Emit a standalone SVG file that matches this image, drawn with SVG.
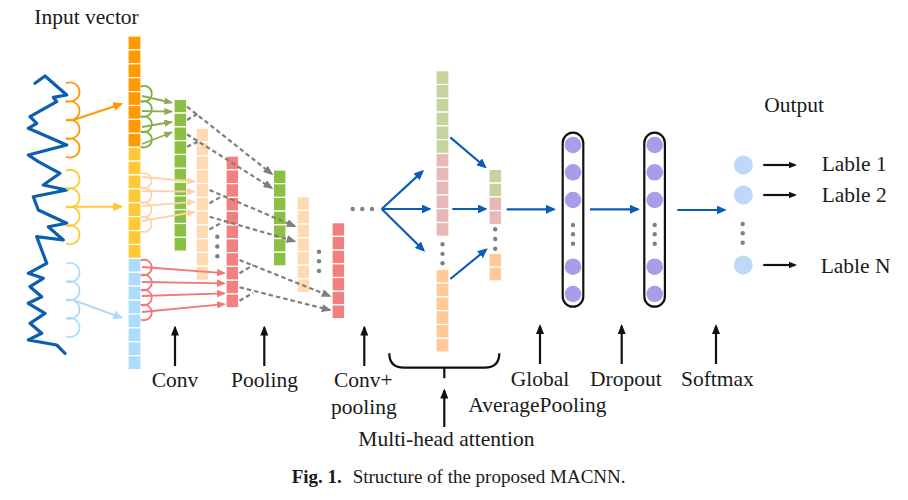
<svg xmlns="http://www.w3.org/2000/svg" width="908" height="500" viewBox="0 0 908 500">
<style>
.t{font-family:"Liberation Serif","Times New Roman",serif;font-size:21.5px;fill:#1a1a1a}
.cap{font-family:"Liberation Serif","Times New Roman",serif;font-size:19px;fill:#1a1a1a}
.c rect{stroke:#fff;stroke-width:1.2}
.or{fill:#FF9A00}.ye{fill:#FFC935}.lb{fill:#ADDBFB}
.gr{fill:#8CC043}.pe{fill:#FFDAB3}.rd{fill:#F28080}
.ag{fill:#C6D39F}.ap{fill:#E8B8B7}.ao{fill:#FFC999}
.dot{fill:#808080}
.pu{fill:#A99CE8}
.arc{fill:none;stroke-width:1.8}
.dash{fill:none;stroke:#7F7F7F;stroke-width:2.2;stroke-dasharray:4.5 3}
.bl{fill:none;stroke:#0B5CB8;stroke-width:2.2}
.bk{fill:none;stroke:#111;stroke-width:2.2}
</style>
<defs>
<marker id="mOr" markerUnits="userSpaceOnUse" viewBox="0 0 10 9" refX="8" refY="4.5" markerWidth="10" markerHeight="9" orient="auto"><path d="M0,0L10,4.5L0,9z" fill="#FF9A00"/></marker>
<marker id="mYe" markerUnits="userSpaceOnUse" viewBox="0 0 10 9" refX="8" refY="4.5" markerWidth="10" markerHeight="9" orient="auto"><path d="M0,0L10,4.5L0,9z" fill="#FFC935"/></marker>
<marker id="mLb" markerUnits="userSpaceOnUse" viewBox="0 0 10 9" refX="8" refY="4.5" markerWidth="10" markerHeight="9" orient="auto"><path d="M0,0L10,4.5L0,9z" fill="#ADDBFB"/></marker>
<marker id="mGr" markerUnits="userSpaceOnUse" viewBox="0 0 9 7" refX="7" refY="3.5" markerWidth="9" markerHeight="7" orient="auto"><path d="M0,0L9,3.5L0,7z" fill="#8FAA55"/></marker>
<marker id="mPe" markerUnits="userSpaceOnUse" viewBox="0 0 9 7.5" refX="7" refY="3.75" markerWidth="9" markerHeight="7.5" orient="auto"><path d="M0,0L9,3.75L0,7.5z" fill="#FDD3AA"/></marker>
<marker id="mRd" markerUnits="userSpaceOnUse" viewBox="0 0 9 7.5" refX="7" refY="3.75" markerWidth="9" markerHeight="7.5" orient="auto"><path d="M0,0L9,3.75L0,7.5z" fill="#F07878"/></marker>
<marker id="mGy" markerUnits="userSpaceOnUse" viewBox="0 0 10 8" refX="8" refY="4" markerWidth="10" markerHeight="8" orient="auto"><path d="M0,0L10,4L0,8z" fill="#7F7F7F"/></marker>
<marker id="mBl" markerUnits="userSpaceOnUse" viewBox="0 0 10 9" refX="8" refY="4.5" markerWidth="10" markerHeight="9" orient="auto"><path d="M0,0L10,4.5L0,9z" fill="#0B5CB8"/></marker>
<marker id="mBk" markerUnits="userSpaceOnUse" viewBox="0 0 10 8" refX="8" refY="4" markerWidth="10" markerHeight="8" orient="auto"><path d="M0,0L10,4L0,8z" fill="#111"/></marker>
<marker id="mBs" markerUnits="userSpaceOnUse" viewBox="0 0 8 6.5" refX="6" refY="3.25" markerWidth="8" markerHeight="6.5" orient="auto"><path d="M0,0L8,3.25L0,6.5z" fill="#111"/></marker>
</defs>
<rect width="908" height="500" fill="#fff"/>

<g id="waveform">
<polyline fill="none" stroke="#0D5EAF" stroke-width="3.2" stroke-linejoin="round" stroke-linecap="round" points="35,83.3 45,76 66.7,95 53.3,97.3 56.7,101.7 30,116.7 36.7,123.3 28.3,128.3 66.7,145 28.3,155 38.3,161.7 60,173.3 43.3,185 66.7,190 33.3,196.7 38.3,210 66.7,223.3 48.3,226.7 63.3,240 36.7,236.7 46.7,263.3 28.3,273.3 43.3,278.3 30,286.7 41.7,296.7 28.3,303.3 45,313.3 30,323.3 41.7,333.3 28.3,340 56.7,345 65,353.3"/>
<path class="arc" stroke="#FF9A00" d="M66,83.39A9.5,9.5 0 1 1 66,100.61M66,102.09A9.5,9.5 0 1 1 66,119.31M66,120.69A9.5,9.5 0 1 1 66,137.91M66,139.39A9.5,9.5 0 1 1 66,156.61"/>
<path class="arc" stroke="#FFC935" d="M66,170.69A9.5,9.5 0 1 1 66,187.91M66,189.19A9.5,9.5 0 1 1 66,206.41M66,207.69A9.5,9.5 0 1 1 66,224.91M66,226.19A9.5,9.5 0 1 1 66,243.41"/>
<path class="arc" stroke="#ADDBFB" d="M66,263.89A9.5,9.5 0 1 1 66,281.11M66,282.19A9.5,9.5 0 1 1 66,299.41M66,300.59A9.5,9.5 0 1 1 66,317.81M66,318.89A9.5,9.5 0 1 1 66,336.11"/>
</g>

<g id="input-vector" class="c">
<rect class="or" x="128" y="36" width="13" height="13.9"/><rect class="or" x="128" y="49.9" width="13" height="13.9"/><rect class="or" x="128" y="63.8" width="13" height="13.9"/><rect class="or" x="128" y="77.7" width="13" height="13.9"/><rect class="or" x="128" y="91.6" width="13" height="13.9"/><rect class="or" x="128" y="105.5" width="13" height="13.9"/><rect class="or" x="128" y="119.4" width="13" height="13.9"/><rect class="or" x="128" y="133.3" width="13" height="13.9"/>
<rect class="ye" x="128" y="147.2" width="13" height="13.9"/><rect class="ye" x="128" y="161.1" width="13" height="13.9"/><rect class="ye" x="128" y="175" width="13" height="13.9"/><rect class="ye" x="128" y="188.9" width="13" height="13.9"/><rect class="ye" x="128" y="202.8" width="13" height="13.9"/><rect class="ye" x="128" y="216.7" width="13" height="13.9"/><rect class="ye" x="128" y="230.6" width="13" height="13.9"/><rect class="ye" x="128" y="244.5" width="13" height="13.9"/>
<rect class="lb" x="128" y="258.4" width="13" height="13.9"/><rect class="lb" x="128" y="272.3" width="13" height="13.9"/><rect class="lb" x="128" y="286.2" width="13" height="13.9"/><rect class="lb" x="128" y="300.1" width="13" height="13.9"/><rect class="lb" x="128" y="314" width="13" height="13.9"/><rect class="lb" x="128" y="327.9" width="13" height="13.9"/><rect class="lb" x="128" y="341.8" width="13" height="13.9"/><rect class="lb" x="128" y="355.7" width="13" height="13.9"/>
</g>

<g id="conv-arcs">
<path class="arc" stroke="#77B33C" d="M140.7,86.63A7.8,7.8 0 1 1 140.7,100.77M140.7,101.93A7.8,7.8 0 1 1 140.7,116.07M140.7,117.23A7.8,7.8 0 1 1 140.7,131.37M140.7,132.53A7.8,7.8 0 1 1 140.7,146.67"/>
<path class="arc" stroke="#FDD3AA" d="M140.8,173.8A7.5,7.5 0 1 1 140.8,187.4M140.8,188.4A7.5,7.5 0 1 1 140.8,202M140.8,203A7.5,7.5 0 1 1 140.8,216.6M140.8,217.6A7.5,7.5 0 1 1 140.8,231.2"/>
<path class="arc" stroke="#F07878" d="M140.75,260.52A7.7,7.7 0 1 1 140.75,274.48M140.75,275.52A7.7,7.7 0 1 1 140.75,289.48M140.75,290.52A7.7,7.7 0 1 1 140.75,304.48M140.75,305.52A7.7,7.7 0 1 1 140.75,319.48"/>
</g>

<g id="conv-green" class="c">
<rect class="gr" x="174" y="99.3" width="12.7" height="13.8"/><rect class="gr" x="174" y="113.1" width="12.7" height="13.8"/><rect class="gr" x="174" y="126.9" width="12.7" height="13.8"/><rect class="gr" x="174" y="140.7" width="12.7" height="13.8"/><rect class="gr" x="174" y="154.5" width="12.7" height="13.8"/><rect class="gr" x="174" y="168.3" width="12.7" height="13.8"/><rect class="gr" x="174" y="182.1" width="12.7" height="13.8"/><rect class="gr" x="174" y="195.9" width="12.7" height="13.8"/><rect class="gr" x="174" y="209.7" width="12.7" height="13.8"/><rect class="gr" x="174" y="223.5" width="12.7" height="13.8"/><rect class="gr" x="174" y="237.3" width="12.7" height="13.8"/>
</g>
<g id="conv-peach" class="c">
<rect class="pe" x="196" y="128.3" width="12.7" height="13.8"/><rect class="pe" x="196" y="142.1" width="12.7" height="13.8"/><rect class="pe" x="196" y="155.9" width="12.7" height="13.8"/><rect class="pe" x="196" y="169.7" width="12.7" height="13.8"/><rect class="pe" x="196" y="183.5" width="12.7" height="13.8"/><rect class="pe" x="196" y="197.3" width="12.7" height="13.8"/><rect class="pe" x="196" y="211.1" width="12.7" height="13.8"/><rect class="pe" x="196" y="224.9" width="12.7" height="13.8"/><rect class="pe" x="196" y="238.7" width="12.7" height="13.8"/><rect class="pe" x="196" y="252.5" width="12.7" height="13.8"/><rect class="pe" x="196" y="266.3" width="12.7" height="13.8"/>
</g>
<g id="conv-red" class="c">
<rect class="rd" x="226" y="156" width="12.7" height="13.8"/><rect class="rd" x="226" y="169.8" width="12.7" height="13.8"/><rect class="rd" x="226" y="183.6" width="12.7" height="13.8"/><rect class="rd" x="226" y="197.4" width="12.7" height="13.8"/><rect class="rd" x="226" y="211.2" width="12.7" height="13.8"/><rect class="rd" x="226" y="225" width="12.7" height="13.8"/><rect class="rd" x="226" y="238.8" width="12.7" height="13.8"/><rect class="rd" x="226" y="252.6" width="12.7" height="13.8"/><rect class="rd" x="226" y="266.4" width="12.7" height="13.8"/><rect class="rd" x="226" y="280.2" width="12.7" height="13.8"/><rect class="rd" x="226" y="294" width="12.7" height="13.8"/>
</g>
<g id="conv-dots">
<circle class="dot" cx="217.3" cy="236.7" r="2.2"/><circle class="dot" cx="217.3" cy="246.5" r="2.2"/><circle class="dot" cx="217.3" cy="256.3" r="2.2"/>
</g>

<g id="pool-green" class="c">
<rect class="gr" x="273.3" y="170" width="12.7" height="13.7"/><rect class="gr" x="273.3" y="183.7" width="12.7" height="13.7"/><rect class="gr" x="273.3" y="197.4" width="12.7" height="13.7"/><rect class="gr" x="273.3" y="211.1" width="12.7" height="13.7"/><rect class="gr" x="273.3" y="224.8" width="12.7" height="13.7"/><rect class="gr" x="273.3" y="238.5" width="12.7" height="13.7"/><rect class="gr" x="273.3" y="252.2" width="12.7" height="13.7"/>
</g>
<g id="pool-peach" class="c">
<rect class="pe" x="297" y="196.7" width="12.7" height="13.7"/><rect class="pe" x="297" y="210.4" width="12.7" height="13.7"/><rect class="pe" x="297" y="224.1" width="12.7" height="13.7"/><rect class="pe" x="297" y="237.8" width="12.7" height="13.7"/><rect class="pe" x="297" y="251.5" width="12.7" height="13.7"/><rect class="pe" x="297" y="265.2" width="12.7" height="13.7"/><rect class="pe" x="297" y="278.9" width="12.7" height="13.7"/>
</g>
<g id="pool-red" class="c">
<rect class="rd" x="332" y="222.7" width="12.7" height="13.7"/><rect class="rd" x="332" y="236.4" width="12.7" height="13.7"/><rect class="rd" x="332" y="250.1" width="12.7" height="13.7"/><rect class="rd" x="332" y="263.8" width="12.7" height="13.7"/><rect class="rd" x="332" y="277.5" width="12.7" height="13.7"/><rect class="rd" x="332" y="291.2" width="12.7" height="13.7"/><rect class="rd" x="332" y="304.9" width="12.7" height="13.7"/>
</g>
<g id="pool-dots">
<circle class="dot" cx="319" cy="251.7" r="2.2"/><circle class="dot" cx="319" cy="261.3" r="2.2"/><circle class="dot" cx="319" cy="270.9" r="2.2"/>
</g>
<g id="ellipsis">
<circle class="dot" cx="352.7" cy="209" r="2.2"/><circle class="dot" cx="362.3" cy="209" r="2.2"/><circle class="dot" cx="372" cy="209" r="2.2"/>
</g>

<g id="attention-heads" class="c">
<rect class="ag" x="436" y="70.7" width="13" height="13.8"/><rect class="ag" x="436" y="84.5" width="13" height="13.8"/><rect class="ag" x="436" y="98.3" width="13" height="13.8"/><rect class="ag" x="436" y="112.1" width="13" height="13.8"/><rect class="ag" x="436" y="125.9" width="13" height="13.8"/><rect class="ag" x="436" y="139.7" width="13" height="13.8"/>
<rect class="ap" x="436" y="153.5" width="13" height="13.8"/><rect class="ap" x="436" y="167.3" width="13" height="13.8"/><rect class="ap" x="436" y="181.1" width="13" height="13.8"/><rect class="ap" x="436" y="194.9" width="13" height="13.8"/><rect class="ap" x="436" y="208.7" width="13" height="13.8"/><rect class="ap" x="436" y="222.5" width="13" height="13.8"/>
<rect class="ao" x="436" y="269.3" width="13" height="13.8"/><rect class="ao" x="436" y="283.1" width="13" height="13.8"/><rect class="ao" x="436" y="296.9" width="13" height="13.8"/><rect class="ao" x="436" y="310.7" width="13" height="13.8"/><rect class="ao" x="436" y="324.5" width="13" height="13.8"/><rect class="ao" x="436" y="338.3" width="13" height="13.8"/>
<circle class="dot" cx="442.5" cy="244.3" r="2.2"/><circle class="dot" cx="442.5" cy="253.9" r="2.2"/><circle class="dot" cx="442.5" cy="263.3" r="2.2"/>
</g>
<g id="attention-output" class="c">
<rect class="ag" x="489" y="169.3" width="12.7" height="13.8"/><rect class="ag" x="489" y="183.1" width="12.7" height="13.8"/>
<rect class="ap" x="489" y="196.9" width="12.7" height="13.8"/><rect class="ap" x="489" y="210.7" width="12.7" height="13.8"/>
<rect class="ao" x="489" y="253.3" width="12.7" height="13.8"/><rect class="ao" x="489" y="267.1" width="12.7" height="13.8"/>
<circle class="dot" cx="495.2" cy="229.3" r="2.2"/><circle class="dot" cx="495.2" cy="239" r="2.2"/><circle class="dot" cx="495.2" cy="248.7" r="2.2"/>
</g>

<g id="global-average-pooling">
<rect x="562.7" y="132.7" width="20.6" height="174" rx="10.3" fill="#fff" stroke="#111" stroke-width="2.2"/>
<circle class="pu" cx="573" cy="145" r="8.3"/><circle class="pu" cx="573" cy="172.3" r="8.3"/><circle class="pu" cx="573" cy="200" r="8.3"/><circle class="pu" cx="573" cy="266.7" r="8.3"/><circle class="pu" cx="573" cy="294" r="8.3"/>
<circle class="dot" cx="573" cy="225" r="2.2"/><circle class="dot" cx="573" cy="234.3" r="2.2"/><circle class="dot" cx="573" cy="243.7" r="2.2"/>
</g>
<g id="dropout">
<rect x="644.3" y="132.7" width="20.6" height="174" rx="10.3" fill="#fff" stroke="#111" stroke-width="2.2"/>
<circle class="pu" cx="654.7" cy="145" r="8.3"/><circle class="pu" cx="654.7" cy="172.3" r="8.3"/><circle class="pu" cx="654.7" cy="200" r="8.3"/><circle class="pu" cx="654.7" cy="266.7" r="8.3"/><circle class="pu" cx="654.7" cy="294" r="8.3"/>
<circle class="dot" cx="654.7" cy="225" r="2.2"/><circle class="dot" cx="654.7" cy="234.3" r="2.2"/><circle class="dot" cx="654.7" cy="243.7" r="2.2"/>
</g>
<g id="output">
<circle cx="743.3" cy="165" r="9.5" fill="#BDD9F7"/><circle cx="743.3" cy="195" r="9.5" fill="#BDD9F7"/><circle cx="743.3" cy="265" r="9.5" fill="#BDD9F7"/>
<circle class="dot" cx="742.7" cy="224" r="2.2"/><circle class="dot" cx="742.7" cy="233.3" r="2.2"/><circle class="dot" cx="742.7" cy="242.7" r="2.2"/>
<text class="t" x="764.3" y="111.7">Output</text>
<text class="t" x="821.7" y="170.7">Lable 1</text>
<text class="t" x="821.7" y="201.7">Lable 2</text>
<text class="t" x="820.7" y="273.3">Lable N</text>
</g>

<g id="connectors">
<line x1="73.3" y1="120" x2="121.4" y2="104" stroke="#FF9A00" stroke-width="2" marker-end="url(#mOr)"/>
<line x1="73.3" y1="206.7" x2="121.3" y2="206.7" stroke="#FFC935" stroke-width="2" marker-end="url(#mYe)"/>
<line x1="73.3" y1="300" x2="121.4" y2="317.6" stroke="#ADDBFB" stroke-width="2" marker-end="url(#mLb)"/>
<g stroke="#8FAA55" stroke-width="1.8" marker-end="url(#mGr)">
<line x1="142" y1="96" x2="171.3" y2="102.5"/><line x1="142" y1="111" x2="171.3" y2="111.6"/><line x1="142" y1="127" x2="171.3" y2="122"/><line x1="142" y1="144" x2="171.4" y2="132.5"/>
</g>
<g stroke="#FDD3AA" stroke-width="1.8" marker-end="url(#mPe)">
<line x1="142" y1="177" x2="194" y2="181.5"/><line x1="142" y1="191" x2="194" y2="191.7"/><line x1="142" y1="206" x2="194" y2="201.8"/><line x1="142" y1="221" x2="194" y2="212"/>
</g>
<g stroke="#F07878" stroke-width="1.8" marker-end="url(#mRd)">
<line x1="142" y1="267" x2="224" y2="273.2"/><line x1="142" y1="282" x2="224" y2="283.3"/><line x1="142" y1="296" x2="224" y2="293.4"/><line x1="142" y1="312" x2="224" y2="304.2"/>
</g>
<g class="dash">
<line x1="187" y1="106.7" x2="271.7" y2="173.8" marker-end="url(#mGy)"/><line x1="187" y1="120" x2="199" y2="113"/>
<line x1="187" y1="134.3" x2="271.6" y2="187.9" marker-end="url(#mGy)"/><line x1="187" y1="146.7" x2="199" y2="141.3"/>
<line x1="209.5" y1="190" x2="294.7" y2="226.2" marker-end="url(#mGy)"/><line x1="209.5" y1="203.3" x2="221.5" y2="196.5"/>
<line x1="209.5" y1="216.7" x2="294.6" y2="241.2" marker-end="url(#mGy)"/><line x1="209.5" y1="229.5" x2="221" y2="223"/>
<line x1="239.5" y1="260" x2="329.8" y2="296" marker-end="url(#mGy)"/><line x1="239.5" y1="273.3" x2="253.3" y2="265"/>
<line x1="239.5" y1="287.3" x2="329.8" y2="310" marker-end="url(#mGy)"/><line x1="239.5" y1="300.7" x2="253" y2="293"/>
</g>
<g class="bl" marker-end="url(#mBl)">
<line x1="381.7" y1="209" x2="422.5" y2="171.4"/><line x1="381.7" y1="209" x2="429.7" y2="209"/><line x1="381.7" y1="209" x2="423.6" y2="250.3"/>
<line x1="450.3" y1="137.3" x2="485.2" y2="167"/><line x1="452.3" y1="209" x2="485.7" y2="209"/><line x1="450.3" y1="279" x2="486.2" y2="249.6"/>
<line x1="506.7" y1="209.3" x2="554" y2="209.3"/><line x1="590" y1="209.3" x2="638" y2="209.3"/><line x1="677.3" y1="210" x2="724.7" y2="210"/>
</g>
<g class="bk" marker-end="url(#mBs)">
<line x1="763.3" y1="165" x2="795" y2="165"/><line x1="763.3" y1="195" x2="795" y2="195"/><line x1="763.3" y1="265" x2="795" y2="265"/>
</g>
<g class="bk" marker-end="url(#mBk)">
<line x1="175" y1="366" x2="175" y2="327.5"/><line x1="264.3" y1="366" x2="264.3" y2="327.5"/><line x1="364.3" y1="366" x2="364.3" y2="327.5"/>
<line x1="540" y1="364" x2="540" y2="326"/><line x1="621.7" y1="364" x2="621.7" y2="326"/><line x1="716" y1="364" x2="716" y2="326"/>
<line x1="444.3" y1="427" x2="444.3" y2="390.5"/>
</g>
<path class="bk" stroke-width="2.5" d="M389.3,353.3Q389.3,367.7 404,367.7L484.6,367.7Q499.3,367.7 499.3,353.3M444.3,367.7V378.3"/>
</g>

<g id="labels">
<text class="t" x="34.3" y="24">Input vector</text>
<text class="t" x="151.7" y="386.7">Conv</text>
<text class="t" x="231" y="386.7">Pooling</text>
<text class="t" x="334" y="386.7">Conv+</text>
<text class="t" x="331" y="414.3">pooling</text>
<text class="t" x="510.7" y="386">Global</text>
<text class="t" x="468.3" y="411.7">AveragePooling</text>
<text class="t" x="590" y="386">Dropout</text>
<text class="t" x="681" y="385.5">Softmax</text>
<text class="t" x="358.3" y="446">Multi-head attention</text>
</g>
<g id="caption">
<text class="cap" x="291.7" y="483.3" font-weight="bold">Fig. 1.</text>
<text class="cap" x="352.7" y="483.3">Structure of the proposed MACNN.</text>
</g>
</svg>
